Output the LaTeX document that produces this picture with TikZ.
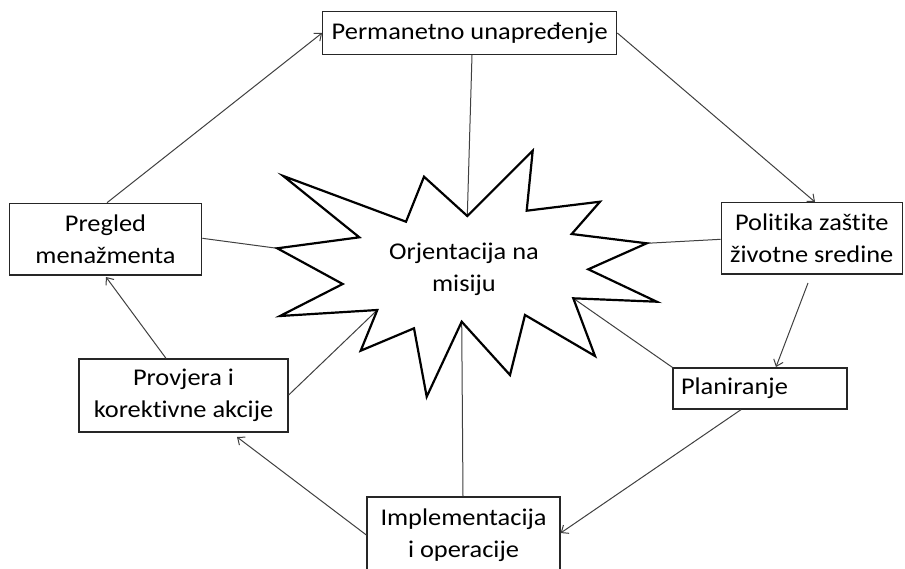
\documentclass[tikz,border=0pt]{standalone}
\usepackage{fontspec}
\setmainfont{Carlito}[Ligatures=NoCommon, FakeStretch=1.1]
\usetikzlibrary{arrows.meta}
\definecolor{linegray}{HTML}{404040}
\tikzset{
  txt/.style={font=\fontsize{24}{32}\selectfont},
  box/.style={draw=black!85, line width=1.3pt, fill=white, align=center, inner sep=0pt, txt},
  conn/.style={draw=linegray, line width=1pt},
  arr/.style={conn, -{Straight Barb[length=6pt,width=10pt]}},
  starline/.style={draw=black, line width=2.2pt, line join=miter, fill=white},
}
\begin{document}
\begin{tikzpicture}[x=1pt,y=-1pt]
\clip (0,0) rectangle (905,568);
\fill[white] (0,0) rectangle (905,568);

% star vertices
\coordinate (s1) at (532.7,150.7);
\coordinate (s2) at (526.7,210.7);
\coordinate (s3) at (600,201.7);
\coordinate (s4) at (571.7,234);
\coordinate (s5) at (646.7,243.3);
\coordinate (s6) at (588.3,269.3);
\coordinate (s7) at (656.7,301.7);
\coordinate (s8) at (573.3,298.3);
\coordinate (s9) at (595,356);
\coordinate (s10) at (525,315);
\coordinate (s11) at (510,375);
\coordinate (s12) at (461.7,321.7);
\coordinate (s13) at (426.7,396.7);
\coordinate (s14) at (414,328.3);
\coordinate (s15) at (360.7,350.7);
\coordinate (s16) at (377.3,310);
\coordinate (s17) at (280,316);
\coordinate (s18) at (342.7,284);
\coordinate (s19) at (277.3,248.3);
\coordinate (s20) at (359.3,237.3);
\coordinate (s21) at (283.3,176);
\coordinate (s22) at (406,221.7);
\coordinate (s23) at (424,176.7);
\coordinate (s24) at (467.3,216);

% boxes
\node[box, minimum width=294pt, minimum height=42.6pt] (perm) at (469.7,33) {Permanetno unapređenje};
\node[box, minimum width=181pt, minimum height=71.3pt] (pol) at (811.8,238.3) {Politika zaštite\\životne sredine};
\node[box, minimum width=174pt, minimum height=41pt, text width=158pt, align=left] (plan) at (760,388.5) {Planiranje};
\node[box, minimum width=193pt, minimum height=76pt] (impl) at (463.5,535) {Implementacija\\i operacije};
\node[box, minimum width=209pt, minimum height=73pt] (prov) at (183.5,395.5) {Provjera i\\korektivne akcije};
\node[box, minimum width=192.4pt, minimum height=71.7pt] (preg) at (105.5,239.2) {Pregled\\menažmenta};

% free ends
\coordinate (politbot) at (808,283);
\coordinate (plantop) at (776,367);
\coordinate (provbot) at (237,437);
\coordinate (pregbot) at (106,277);

% star-to-box lines
\draw[conn] (perm.south -| 472,0) -- (s24);
\draw[conn] (s5) -- (pol.west |- 0,239.3);
\draw[conn] (s8) -- (plan.north west);
\draw[conn] (impl.north -| 463,0) -- (s12);
\draw[conn] (prov.east |- 0,395) -- (s16);
\draw[conn] (preg.east |- 0,238.3) -- (s19);

% star
\draw[starline] (s1) -- (s2) -- (s3) -- (s4) -- (s5) -- (s6) -- (s7) -- (s8) -- (s9) -- (s10) -- (s11) -- (s12) -- (s13) -- (s14) -- (s15) -- (s16) -- (s17) -- (s18) -- (s19) -- (s20) -- (s21) -- (s22) -- (s23) -- (s24) -- cycle;
\node[align=center, txt] (mis) at (464,269) {Orjentacija na\\misiju};

% cycle arrows
\draw[arr] (preg.north -| 107,0) -- (perm.west);
\draw[arr] (perm.east) -- (pol.north -| 815,0);
\draw[arr] (politbot) -- (plantop);
\draw[arr] (plan.south -| 741,0) -- (impl.east |- 0,533);
\draw[arr] (impl.west |- 0,535) -- (provbot);
\draw[arr] (prov.north -| 166,0) -- (pregbot);
\end{tikzpicture}
\end{document}
